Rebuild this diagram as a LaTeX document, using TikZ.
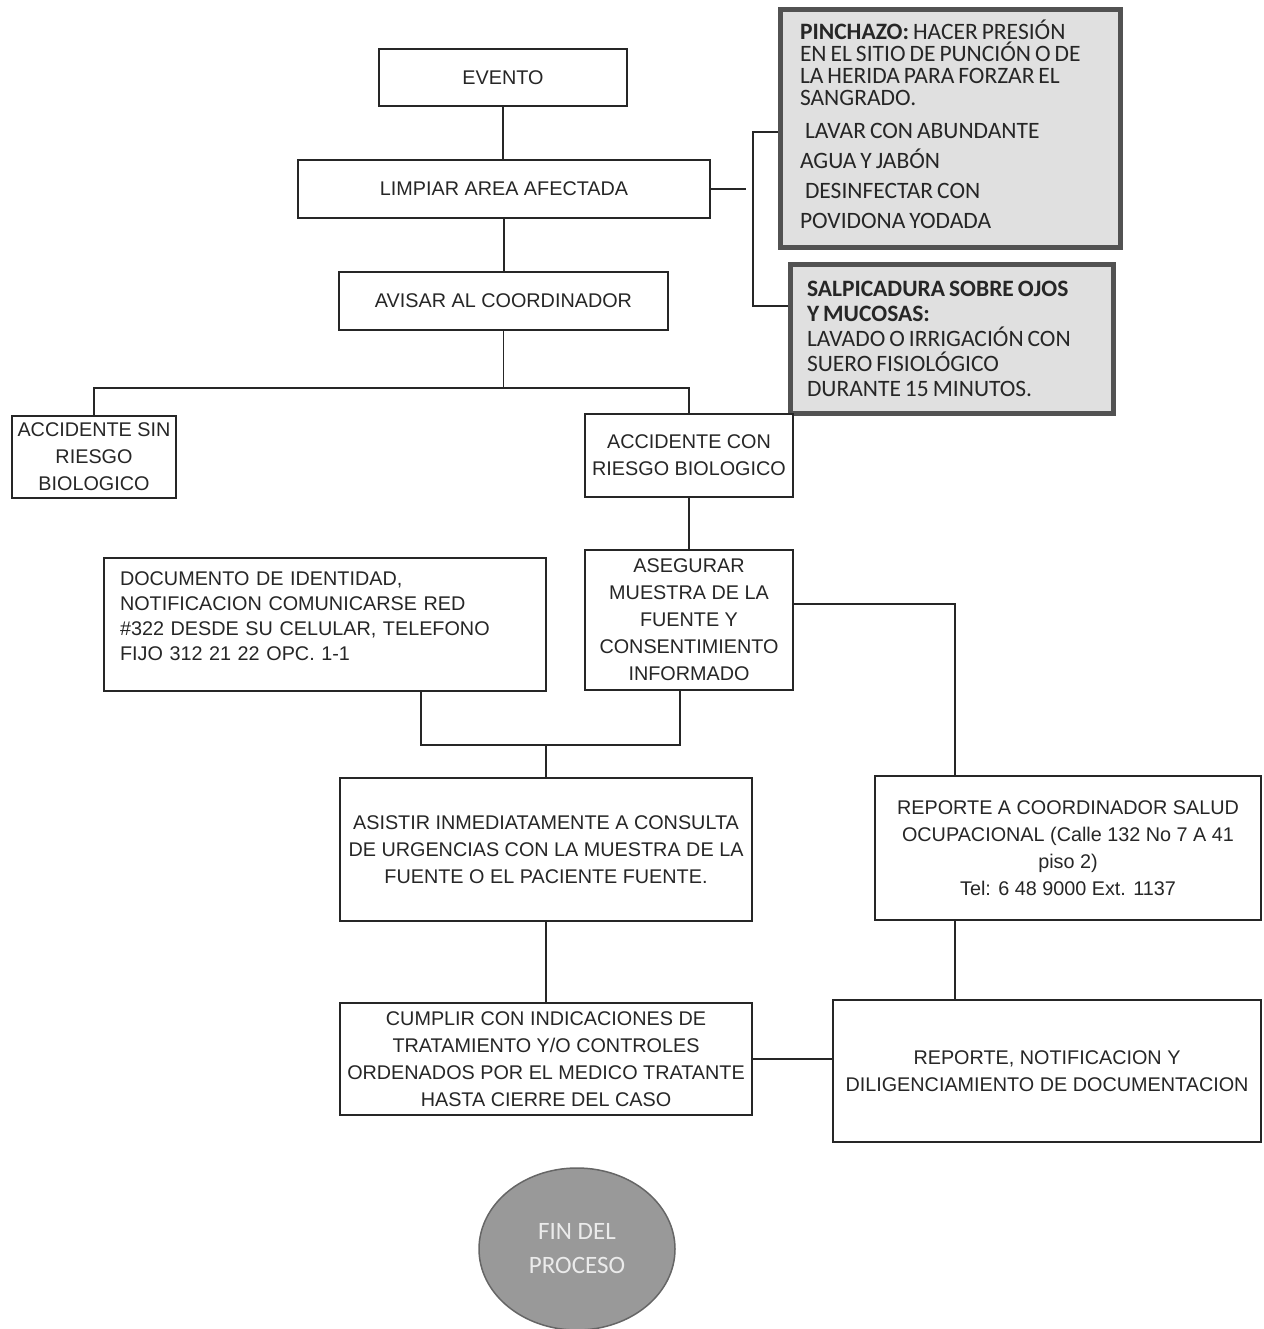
\documentclass[tikz,border=0pt]{standalone}
\usepackage{fontspec}
\setmainfont{Liberation Sans}
\newfontfamily\calib{Carlito}
\newcommand\tightsp{\spaceskip=0.17em plus 0.05em minus 0.03em\relax}
\usetikzlibrary{shapes.geometric}
\begin{document}
\begin{tikzpicture}[x=1pt,y=-1pt,
  box/.style={draw=black!85, line width=1.6pt, fill=white, inner sep=0pt, align=center,
    font=\fontsize{19.8}{27}\selectfont, text=black!85},
  gbox/.style={draw=black!68, line width=5pt, fill=black!12, inner ysep=0pt, align=left,
    text=black!85},
  link/.style={line width=1.6pt, draw=black!85}]
\useasboundingbox (0,0) rectangle (1263,1329);

\node[box, minimum width=248pt, minimum height=57pt] (evento) at (503,77.5) {EVENTO};
\node[box, minimum width=412pt, minimum height=58pt] (limpiar) at (504,189) {LIMPIAR AREA AFECTADA};
\node[box, minimum width=329pt, minimum height=58pt] (avisar) at (503.5,301) {AVISAR AL COORDINADOR};

\node[gbox, text width=300pt, inner xsep=20pt, minimum height=238pt,
  font=\calib\fontsize{23.5}{22}\selectfont] (pinch) at (950,129)
  {\tightsp\textbf{PINCHAZO:} HACER PRESIÓN\\ EN EL SITIO DE PUNCIÓN O DE\\ LA HERIDA PARA FORZAR EL\\ SANGRADO.\\[11pt]
   \hspace*{5pt}LAVAR CON ABUNDANTE\\[8pt] AGUA Y JABÓN\\[8pt] \hspace*{5pt}DESINFECTAR CON\\[8pt] POVIDONA YODADA\\[-12pt]\mbox{}};
\node[gbox, text width=289pt, inner xsep=17pt, minimum height=148pt,
  font=\calib\fontsize{23.5}{25}\selectfont] (salp) at (951.5,339)
  {\tightsp\textbf{SALPICADURA SOBRE OJOS}\\ \textbf{Y MUCOSAS:}\\ LAVADO O IRRIGACIÓN CON\\ SUERO FISIOLÓGICO\\ DURANTE 15 MINUTOS.};

\node[box, minimum width=164pt, minimum height=82pt] (sin) at (94,457) {ACCIDENTE SIN\\ RIESGO\\ BIOLOGICO};
\node[box, minimum width=208pt, minimum height=83pt] (con) at (689,455.5) {ACCIDENTE CON\\ RIESGO BIOLOGICO};

\node[box, align=left, text width=410pt, inner xsep=16pt, minimum height=133pt,
  font=\fontsize{19.8}{25}\selectfont] (doc) at (325,624.5)
  {DOCUMENTO DE IDENTIDAD,\\ NOTIFICACION COMUNICARSE RED\\ \#322 DESDE SU CELULAR, TELEFONO\\ FIJO 312 21 22 OPC. 1-1\\[-9pt]\mbox{}};
\node[box, minimum width=208pt, minimum height=140pt] (aseg) at (689,620)
  {ASEGURAR\\ MUESTRA DE LA\\ FUENTE Y\\ CONSENTIMIENTO\\ INFORMADO};

\node[box, minimum width=412pt, minimum height=143pt] (asistir) at (546,849.5)
  {ASISTIR INMEDIATAMENTE A CONSULTA\\ DE URGENCIAS CON LA MUESTRA DE LA\\ FUENTE O EL PACIENTE FUENTE.};
\node[box, minimum width=386pt, minimum height=144pt] (repcoord) at (1068,848)
  {REPORTE A COORDINADOR SALUD\\ OCUPACIONAL (Calle 132 No 7 A 41\\ piso 2)\\ Tel: 6 48 9000 Ext. 1137};

\node[box, minimum width=412pt, minimum height=112pt] (cumplir) at (546,1059)
  {CUMPLIR CON INDICACIONES DE\\ TRATAMIENTO Y/O CONTROLES\\ ORDENADOS POR EL MEDICO TRATANTE\\ HASTA CIERRE DEL CASO};
\node[box, minimum width=428pt, minimum height=142pt] (repnot) at (1047,1071)
  {REPORTE, NOTIFICACION Y\\ DILIGENCIAMIENTO DE DOCUMENTACION};

\node[ellipse, draw=black!60, line width=1.5pt, fill=black!40, minimum width=196pt, minimum height=162pt,
  inner sep=0pt, align=center, text=white!92!black, font=\calib\fontsize{25}{34}\selectfont] (fin) at (577,1249)
  {FIN DEL\\ PROCESO};

% connectors
\draw[link] (evento.south) -- (evento.south |- limpiar.north);
\draw[link] (limpiar.south) -- (limpiar.south |- avisar.north);

\coordinate (stub) at (746,189);
\coordinate (brt) at (753,132);
\coordinate (brb) at (753,306);
\draw[link] (limpiar.east) -- (stub);
\draw[link] (pinch.west |- brt) -- (brt) -- (brb) -- (salp.west |- brb);

\coordinate (split) at (501,388);
\draw[link] (avisar.south) -- (avisar.south |- split);
\draw[link] (sin.north) |- (split) -| (con.north);

\draw[link] (con.south) -- (aseg.north);

\coordinate (j1) at (546,745);
\draw[link] ([xshift=96pt]doc.south) |- ([xshift=-9pt]aseg.south |- j1) -- ([xshift=-9pt]aseg.south);
\draw[link] (j1) -- (asistir.north);

\draw[link] ([yshift=16pt]aseg.east) -| ([xshift=-113pt]repcoord.north);
\draw[link] (asistir.south) -- (cumplir.north);
\draw[link] ([xshift=-113pt]repcoord.south) -- ([xshift=-113pt]repcoord.south |- repnot.north);
\draw[link] (cumplir.east) -- (cumplir.east -| repnot.west);
\end{tikzpicture}
\end{document}
